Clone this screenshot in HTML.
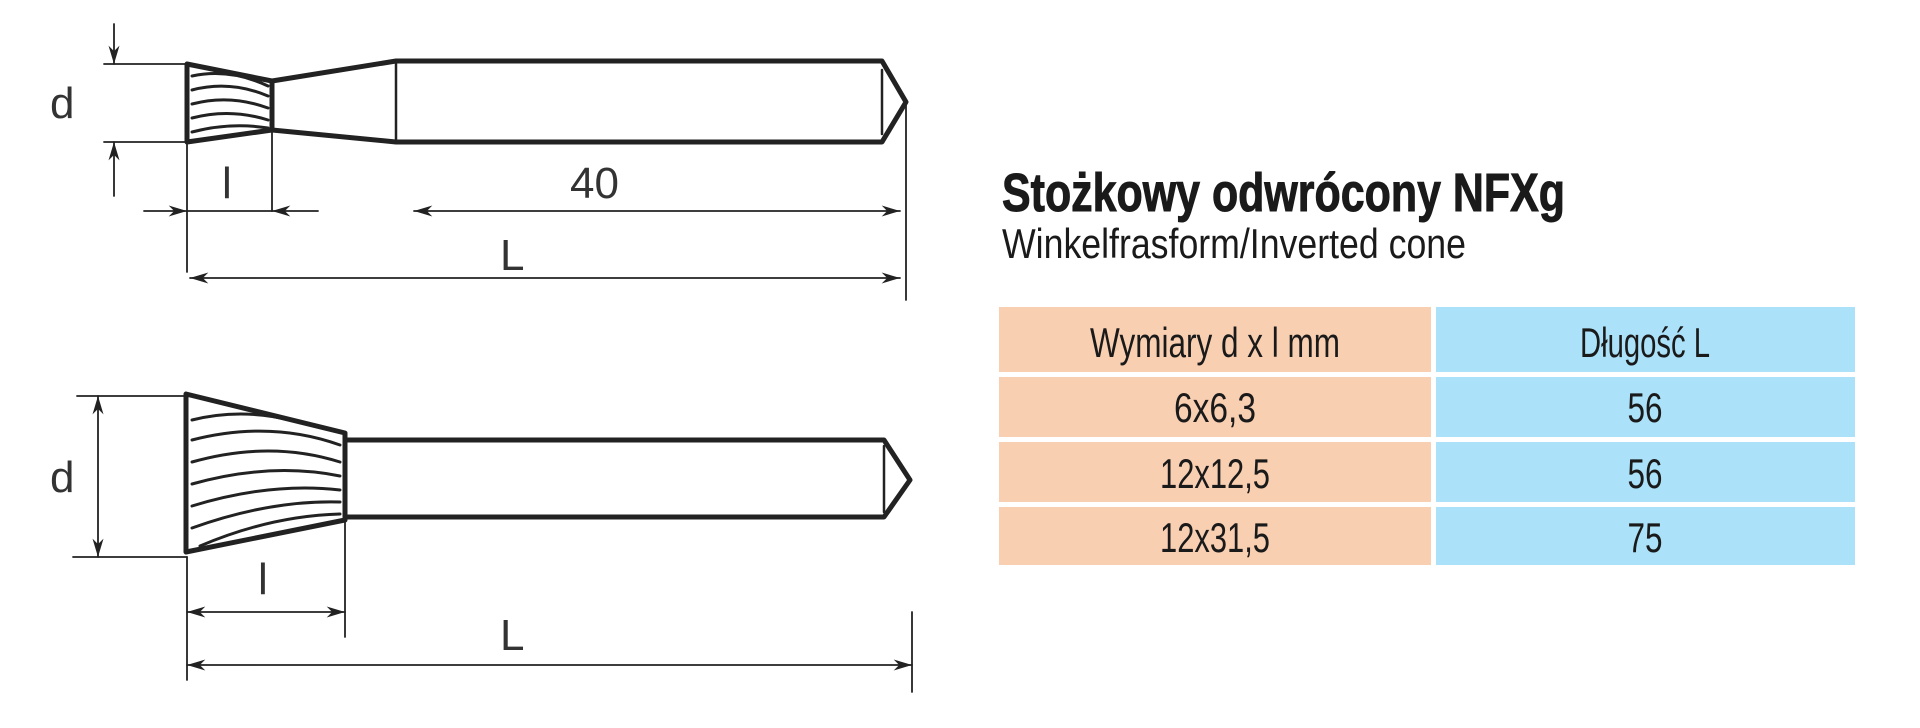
<!DOCTYPE html>
<html><head><meta charset="utf-8"><style>
html,body{margin:0;padding:0;background:#fff;width:1920px;height:728px;overflow:hidden}
</style></head><body>
<svg width="1920" height="728" viewBox="0 0 1920 728" xmlns="http://www.w3.org/2000/svg">
<defs>
<marker id="a" viewBox="0 0 10 6" refX="10" refY="3" markerWidth="26" markerHeight="11" markerUnits="userSpaceOnUse" orient="auto-start-reverse"><path d="M0,0L10,3L0,6L3,3z" fill="#222"/></marker>
</defs>
<g stroke="#222" fill="none" stroke-linecap="round" stroke-linejoin="round">
<!-- TOP TOOL -->
<path d="M187,64 L272,81 L272,130 L187,142 Z" stroke-width="5"/>
<path d="M272,81 L396,61 L882,61 L906,102 L882,142 L396,142 L272,130" stroke-width="5"/>
<path d="M396,61 L396,142 M882,70 L882,134" stroke-width="2.5"/>
<g stroke-width="3">
<path d="M192,76 Q230,68 268,86"/><path d="M192,90 Q230,80 268,96"/><path d="M192,104 Q230,94 268,108"/><path d="M192,118 Q230,108 268,120"/><path d="M192,132 Q230,122 268,128"/>
</g>
<!-- top dims -->
<g stroke-width="1.8">
<path d="M104,64 L187,64 M104,142 L187,142"/>
<path d="M114,24 L114,64" marker-end="url(#a)"/>
<path d="M114,196 L114,142" marker-end="url(#a)"/>
<path d="M187,142 L187,272 M272,130 L272,211 M906,102 L906,300"/>
<path d="M144,211 L187,211" marker-end="url(#a)"/>
<path d="M318,211 L272,211" marker-end="url(#a)"/>
<path d="M187,211 L272,211"/>
<path d="M414,211 L900,211" marker-start="url(#a)" marker-end="url(#a)"/>
<path d="M190,278 L900,278" marker-start="url(#a)" marker-end="url(#a)"/>
</g>
<!-- BOTTOM TOOL -->
<path d="M186,394 L345,433 L345,520 L186,552 Z" stroke-width="5"/>
<path d="M345,440 L884,440 L910,480 L884,517 L345,517" stroke-width="5"/>
<path d="M884,446 L884,512" stroke-width="2.5"/>
<g stroke-width="3">
<path d="M192,420 Q240,408 290,420"/><path d="M192,440 Q270,420 340,445"/><path d="M192,462 Q270,440 340,462"/><path d="M192,484 Q270,462 340,476"/><path d="M192,506 Q270,482 340,490"/><path d="M192,528 Q270,500 340,502"/><path d="M200,546 Q270,516 340,514"/>
</g>
<g stroke-width="1.8">
<path d="M77,396 L187,396 M73,557 L187,557"/>
<path d="M98,396 L98,557" marker-start="url(#a)" marker-end="url(#a)"/>
<path d="M187,557 L187,680 M345,520 L345,637 M912,612 L912,692"/>
<path d="M187,612 L345,612" marker-start="url(#a)" marker-end="url(#a)"/>
<path d="M187,665 L912,665" marker-start="url(#a)" marker-end="url(#a)"/>
</g>
</g>
<g font-family="Liberation Sans, sans-serif" font-size="44" fill="#333">
<text x="50" y="118">d</text>
<text x="222" y="198">l</text>
<text x="570" y="198">40</text>
<text x="500" y="270">L</text>
<text x="50" y="492">d</text>
<text x="258" y="594">l</text>
<text x="500" y="650">L</text>
</g>
<!-- RIGHT -->
<text x="1002" y="211" font-family="Liberation Sans, sans-serif" font-weight="bold" font-size="54" fill="#1a1a1a" stroke="#1a1a1a" stroke-width="1" textLength="563" lengthAdjust="spacingAndGlyphs">Stożkowy odwrócony NFXg</text>
<text x="1002" y="258" font-family="Liberation Sans, sans-serif" font-size="42" fill="#1a1a1a" textLength="464" lengthAdjust="spacingAndGlyphs">Winkelfrasform/Inverted cone</text>
<g>
<rect x="999" y="307" width="432" height="65" fill="#f9cfb2"/>
<rect x="1436" y="307" width="419" height="65" fill="#abe1f9"/>
<rect x="999" y="377" width="432" height="60" fill="#f9cfb2"/>
<rect x="1436" y="377" width="419" height="60" fill="#abe1f9"/>
<rect x="999" y="442" width="432" height="60" fill="#f9cfb2"/>
<rect x="1436" y="442" width="419" height="60" fill="#abe1f9"/>
<rect x="999" y="507" width="432" height="58" fill="#f9cfb2"/>
<rect x="1436" y="507" width="419" height="58" fill="#abe1f9"/>
</g>
<g font-family="Liberation Sans, sans-serif" font-size="42" fill="#1a1a1a" text-anchor="middle">
<text x="1215" y="357" textLength="250" lengthAdjust="spacingAndGlyphs">Wymiary d x l mm</text>
<text x="1645" y="357" textLength="130" lengthAdjust="spacingAndGlyphs">Długość L</text>
<text x="1215" y="422" textLength="82" lengthAdjust="spacingAndGlyphs">6x6,3</text>
<text x="1645" y="422" textLength="35" lengthAdjust="spacingAndGlyphs">56</text>
<text x="1215" y="488" textLength="110" lengthAdjust="spacingAndGlyphs">12x12,5</text>
<text x="1645" y="488" textLength="35" lengthAdjust="spacingAndGlyphs">56</text>
<text x="1215" y="552" textLength="110" lengthAdjust="spacingAndGlyphs">12x31,5</text>
<text x="1645" y="552" textLength="35" lengthAdjust="spacingAndGlyphs">75</text>
</g>
</svg>
</body></html>
